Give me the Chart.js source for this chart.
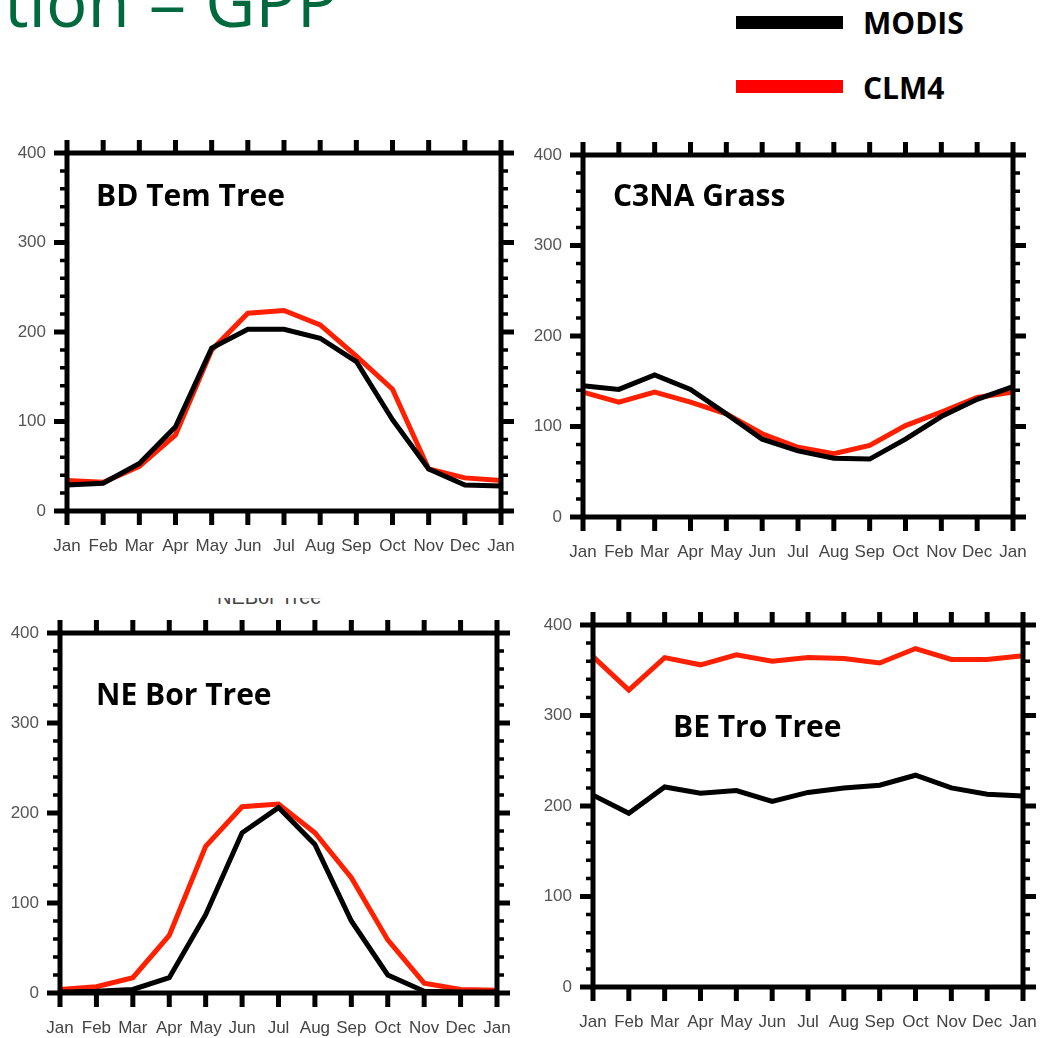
<!DOCTYPE html>
<html>
<head>
<meta charset="utf-8">
<script src="https://cdn.jsdelivr.net/npm/chart.js@4/dist/chart.umd.min.js"></script>
<style>
  html, body { margin: 0; padding: 0; background: #fff; }
  body { position: relative; width: 1056px; height: 1038px; overflow: hidden; font-family: "Open Sans", sans-serif; }
  .big { position: absolute; left: 4px; top: -34px; font-size: 69px; line-height: 69px; color: #006a3e; white-space: nowrap; }
  .lab { position: absolute; font-weight: 700; font-size: 30px; line-height: 30px; color: #000; white-space: nowrap; }
  .bar { position: absolute; left: 736px; width: 107px; height: 13px; }
  .cut { position: absolute; left: 217px; top: 598px; width: 112px; height: 7px; overflow: hidden; }
  .cut span { position: absolute; left: 0; top: -11px; font: 20px/20px "Liberation Sans", Arial, sans-serif; color: #444; white-space: nowrap; }
</style>
</head>
<body>
<div class="big">tion = GPP</div>
<div class="cut"><span>NEBor Tree</span></div>
<div id="legend"></div>

<script>
// data (GPP, monthly, first month repeated at the end)
const months = ["Jan", "Feb", "Mar", "Apr", "May", "Jun", "Jul", "Aug", "Sep", "Oct", "Nov", "Dec", "Jan"];
const yTicks = [0, 100, 200, 300, 400];
const seriesNames = ["MODIS", "CLM4"];
const panelNames = ["BD Tem Tree", "C3NA Grass", "NE Bor Tree", "BE Tro Tree"];

const bdTemModis = [29, 31, 53, 94, 182, 203, 203, 193, 167, 102, 47, 29, 28];
const bdTemClm   = [34, 32, 50, 85, 180, 221, 224, 208, 173, 136, 47, 37, 34];
const c3naModis  = [145, 141, 157, 141, 114, 86, 73, 65, 64, 86, 111, 130, 144];
const c3naClm    = [138, 127, 138, 127, 114, 92, 77, 70, 79, 101, 116, 132, 138];
const neBorModis = [1, 2, 4, 17, 87, 178, 206, 165, 80, 20, 2, 1, 1];
const neBorClm   = [4, 7, 17, 64, 163, 207, 210, 178, 128, 59, 11, 4, 3];
const beTroModis = [212, 192, 221, 214, 217, 205, 215, 220, 223, 234, 220, 213, 211];
const beTroClm   = [365, 328, 364, 356, 367, 360, 364, 363, 358, 374, 362, 362, 366];

const COLORS = ["#000000", "#ff2000"];
const PAD = { l: 60, t: 30, r: 30, b: 60 };
const TICK_FONT = { family: "Liberation Sans", size: 17 };

// thick NCL-style frame with outward ticks
const framePlugin = {
  id: "frame",
  afterDatasetsDraw(chart) {
    const { ctx, chartArea: a, scales: { x, y } } = chart;
    ctx.save();
    ctx.strokeStyle = "#000";
    ctx.lineCap = "butt";

    // minor + major ticks on left/right
    const top = yTicks[yTicks.length - 1];
    for (let v = yTicks[0]; v <= top; v += 20) {
      const py = y.getPixelForValue(v);
      const major = yTicks.includes(v);
      const len = major ? 13 : 7;
      ctx.lineWidth = major ? 5 : 3.5;
      ctx.beginPath();
      ctx.moveTo(a.left - len, py); ctx.lineTo(a.left + (major ? 0 : 2), py);
      ctx.moveTo(a.right - (major ? 0 : 2), py); ctx.lineTo(a.right + len, py);
      ctx.stroke();
    }
    // month ticks on bottom/top
    ctx.lineWidth = 5;
    months.forEach((m, i) => {
      const px = x.getPixelForValue(i);
      ctx.beginPath();
      ctx.moveTo(px, a.bottom); ctx.lineTo(px, a.bottom + 14);
      ctx.moveTo(px, a.top); ctx.lineTo(px, a.top - 13);
      ctx.stroke();
    });
    // frame
    ctx.lineWidth = 5;
    ctx.strokeRect(a.left, a.top, a.right - a.left, a.bottom - a.top);
    ctx.restore();
  }
};

function makePanel(box, name, titlePos, modis, clm) {
  const w = box.right - box.left + PAD.l + PAD.r;
  const h = box.bottom - box.top + PAD.t + PAD.b;
  const wrap = document.createElement("div");
  wrap.style.cssText = `position:absolute;left:${box.left - PAD.l}px;top:${box.top - PAD.t}px;width:${w}px;height:${h}px`;
  const cv = document.createElement("canvas");
  cv.width = w; cv.height = h;
  wrap.appendChild(cv);
  document.body.appendChild(wrap);

  const t = document.createElement("div");
  t.className = "lab";
  t.textContent = name;
  t.style.left = titlePos[0] + "px";
  t.style.top = titlePos[1] + "px";
  document.body.appendChild(t);

  new Chart(cv, {
    type: "line",
    data: {
      labels: months,
      datasets: [
        { label: seriesNames[0], data: modis, borderColor: COLORS[0], borderWidth: 5, pointRadius: 0, tension: 0 },
        { label: seriesNames[1], data: clm, borderColor: COLORS[1], borderWidth: 5, pointRadius: 0, tension: 0 }
      ]
    },
    options: {
      responsive: false,
      animation: false,
      devicePixelRatio: 1,
      layout: { padding: { top: PAD.t, right: PAD.r, left: 0, bottom: 0 } },
      plugins: { legend: { display: false }, tooltip: { enabled: false } },
      scales: {
        x: {
          type: "category",
          offset: false,
          grid: { display: false, drawTicks: false },
          border: { display: false },
          ticks: { autoSkip: false, maxRotation: 0, padding: 25, color: "#444", font: TICK_FONT },
          afterFit(s) { s.height = PAD.b; s.paddingLeft = 0; s.paddingRight = 0; }
        },
        y: {
          min: yTicks[0],
          max: yTicks[yTicks.length - 1],
          grid: { display: false, drawTicks: false },
          border: { display: false },
          afterBuildTicks(s) { s.ticks = yTicks.map(v => ({ value: v })); },
          ticks: { padding: 21, color: "#555", font: TICK_FONT },
          afterFit(s) { s.width = PAD.l; s.paddingTop = 0; s.paddingBottom = 0; }
        }
      }
    },
    plugins: [framePlugin]
  });
}

// legend outside the panels
const legend = document.getElementById("legend");
seriesNames.forEach((n, i) => {
  const b = document.createElement("div");
  b.className = "bar";
  b.style.top = (16 + i * 64) + "px";
  b.style.background = i === 0 ? "#000" : "#ff0000";
  legend.appendChild(b);
  const l = document.createElement("div");
  l.className = "lab";
  l.textContent = n;
  l.style.left = "863px";
  l.style.top = (8 + i * 65) + "px";
  legend.appendChild(l);
});

makePanel({ left: 67, top: 153, right: 501, bottom: 511 }, panelNames[0], [96, 180], bdTemModis, bdTemClm);
makePanel({ left: 583, top: 155, right: 1013, bottom: 517 }, panelNames[1], [613, 180], c3naModis, c3naClm);
makePanel({ left: 60, top: 633, right: 497, bottom: 993 }, panelNames[2], [96, 679], neBorModis, neBorClm);
makePanel({ left: 593, top: 625, right: 1023, bottom: 987 }, panelNames[3], [673, 711], beTroModis, beTroClm);
</script>
</body>
</html>
